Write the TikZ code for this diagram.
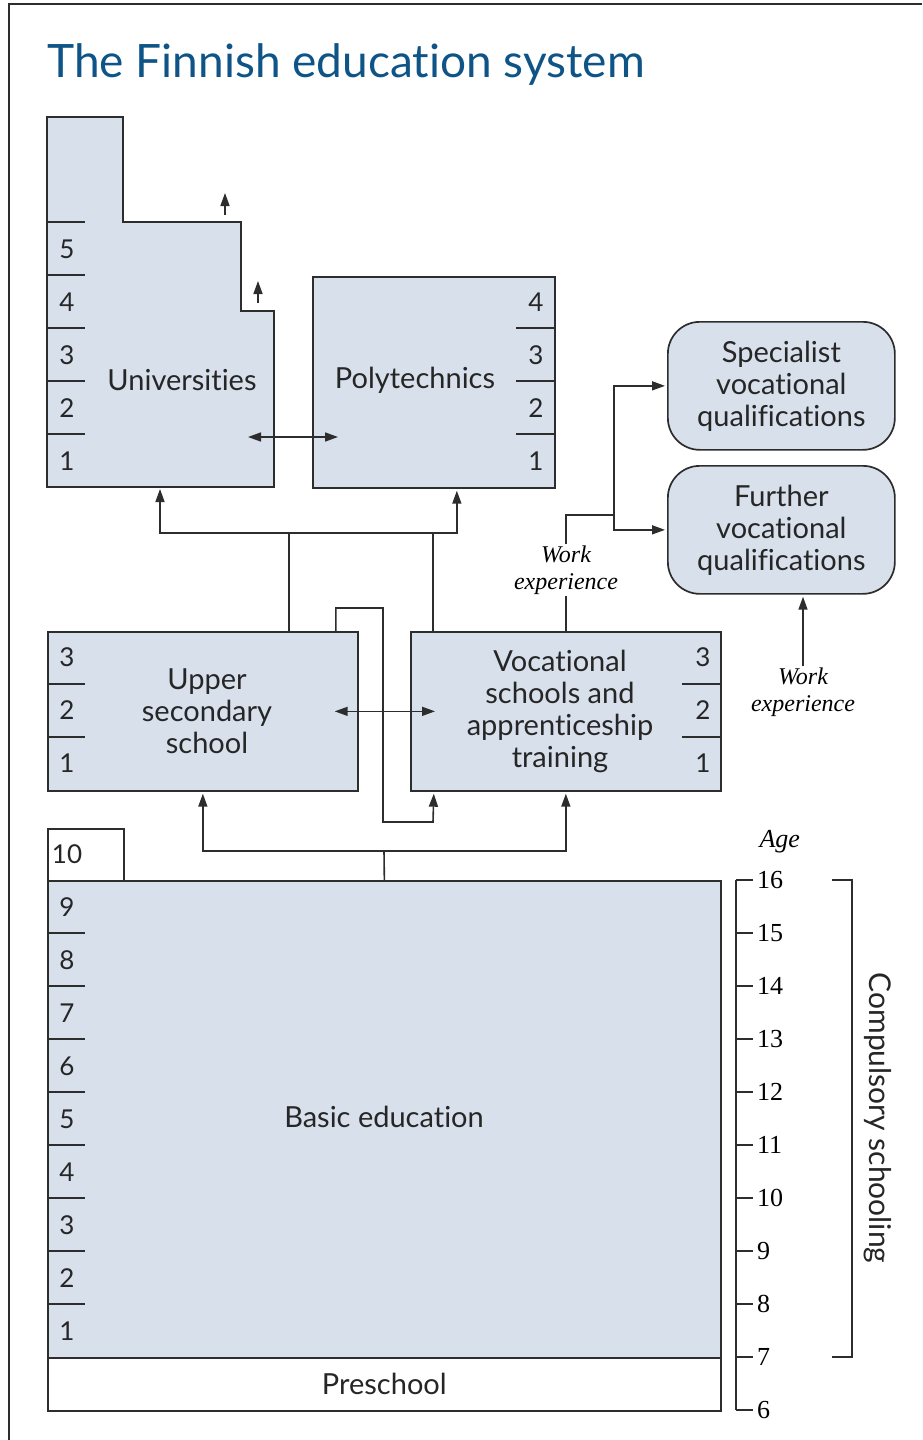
\documentclass[tikz,border=0pt]{standalone}
\usepackage{fontspec}
\setsansfont[Ligatures=NoCommon]{Lato}
\newfontfamily\agefont{Liberation Serif}
\usetikzlibrary{arrows.meta}
\definecolor{stagefill}{RGB}{216,224,236}
\definecolor{titleblue}{RGB}{14,84,135}
\definecolor{edgegray}{RGB}{45,45,45}
\tikzset{
	stageline/.style={draw=edgegray, line width=1.7pt},
	stage/.style={stageline, fill=stagefill, inner sep=0pt, anchor=north west},
	whitestage/.style={stage, fill=white},
	qual/.style={stage, rounded corners=32pt},
	boxtext/.style={font=\sffamily\fontsize{29}{32}\selectfont, align=center, text=black!85, inner sep=1pt},
	yeartext/.style={font=\sffamily\fontsize{26}{30}\selectfont, text=black!85},
	worktext/.style={font=\agefont\itshape\fontsize{24}{27}\selectfont, align=center, inner sep=1pt},
	agetext/.style={font=\agefont\fontsize{26}{30}\selectfont, anchor=west},
	yearline/.style={draw=edgegray, line width=1.4pt},
	link/.style={draw=edgegray, line width=1.6pt},
	into/.style={link, -{Triangle[length=13pt,width=9pt]}, shorten >=2pt},
	both/.style={link, {Triangle[length=13pt,width=9pt]}-{Triangle[length=13pt,width=9pt]}}
}
\begin{document}
\begin{tikzpicture}[x=1pt,y=-1pt]
	\useasboundingbox (0,0) rectangle (922,1440);
	\draw[link] (9,1440) -- (9,4) -- (922,4);
	\node[font=\sffamily\fontsize{46}{50}\selectfont, text=titleblue, anchor=base west, inner sep=0pt] (title) at (47,77) {The Finnish education system};

	% higher education
	\draw[stageline, fill=stagefill] (47,117) -| (123,222) -| (241,311) -| (274,487) -- (47,487) -- cycle;
	\node[boxtext] (uni) at (182,380) {Universities};
	\foreach \y in {222,275,...,434} \draw[yearline] (47,\y) -- ++(38,0);
	\foreach \n [count=\i] in {5,4,3,2,1} \node[yeartext] at (67,196+53*\i) {\n};
	\draw[into] (225,215) -- (225,191);
	\draw[into] (258,303) -- (258,279);
	\coordinate (uni base) at (160,487);
	\coordinate (uni end) at (248,437);

	\node[stage, minimum width=242pt, minimum height=211pt] (poly) at (312,276) {};
	\node[boxtext] (poly text) at (415,380) {Polytechnics};
	\foreach \y in {328,381,434} \draw[yearline] (554,\y) -- ++(-38,0);
	\foreach \n [count=\i] in {4,3,2,1} \node[yeartext] at (536,249+53*\i) {\n};
	\coordinate (poly end) at (338,437);
	\draw[both] (uni end) -- (poly end);

	% qualifications
	\node[qual, minimum width=227pt, minimum height=128pt] (spec) at (667,321) {};
	\node[boxtext] at (spec.center) {Specialist\\vocational\\qualifications};
	\node[qual, minimum width=227pt, minimum height=128pt] (furth) at (667,465) {};
	\node[boxtext] at (furth.center) {Further\\vocational\\qualifications};

	% upper secondary level
	\node[stage, minimum width=310pt, minimum height=159pt] (upper) at (47,631) {};
	\node[boxtext] (upper text) at (207,711) {Upper\\secondary\\school};
	\foreach \y in {684,737} \draw[yearline] (47,\y) -- ++(38,0);
	\foreach \n [count=\i] in {3,2,1} \node[yeartext] at (67,604+53*\i) {\n};

	\node[stage, minimum width=310pt, minimum height=159pt] (voc) at (410,631) {};
	\node[boxtext] (voc text) at (560,711) {Vocational\\schools and\\apprenticeship\\training};
	\foreach \y in {684,737} \draw[yearline] (720,\y) -- ++(-38,0);
	\foreach \n [count=\i] in {3,2,1} \node[yeartext] at (703,604+53*\i) {\n};

	\draw[both] ([xshift=-24pt]upper.east) -- ([xshift=25pt]voc.west);
	\draw[into] ([xshift=133pt]upper.north) |- (383,608) |- (433,822) -- ([xshift=-132pt]voc.south);

	\coordinate (gen up) at (289,533);
	\coordinate (voc up) at (433,533);
	\draw[link] (gen up |- upper.north) -- (gen up) -- (voc up) -- (voc up |- voc.north);
	\draw[into] (gen up) -| (uni base);
	\draw[into] (voc up) -| ([xshift=23pt]poly.south);

	% work experience
	\node[worktext] (work mid) at (566,570) {Work\\experience};
	\coordinate (qual split) at (614,515);
	\draw[link] (work mid.south) -- (work mid.south |- voc.north);
	\draw[link] (work mid.north) |- (qual split);
	\draw[into] (qual split) |- (spec.west);
	\draw[into] (qual split) |- (furth.west);
	\node[worktext] (work side) at (803,692) {Work\\experience};
	\draw[into] (work side.north) -- (work side.north |- furth.south);

	% basic education
	\node[whitestage, minimum width=76pt, minimum height=52pt] (tenth) at (47,828) {};
	\node[yeartext] at (67,854) {10};
	\node[stage, minimum width=673pt, minimum height=477pt] (basic) at (47,880) {};
	\node[boxtext] (basic text) at (384,1117) {Basic education};
	\foreach \y in {933,986,...,1304} \draw[yearline] (47,\y) -- ++(38,0);
	\foreach \n [count=\i] in {9,8,...,1} \node[yeartext] at (67,854+53*\i) {\n};
	\node[whitestage, minimum width=673pt, minimum height=53pt] (pre) at (47,1357) {};
	\node[boxtext] at (pre.center) {Preschool};

	\coordinate (basic fork) at (384,851);
	\draw[link] (basic.north) -- (basic fork);
	\draw[into] (basic fork) -| (upper.south);
	\draw[into] (basic fork) -| (voc.south);

	% ages
	\node[agetext, font=\agefont\itshape\fontsize{26}{30}\selectfont] (age) at (756,842) {Age};
	\draw[link] (736,880) -- (736,1410);
	\foreach \a [count=\i from 0] in {16,15,...,6}
		\draw[link] (736,880+53*\i) -- ++(17,0) node[agetext] {\a};
	\draw[link] (832,880) -| (852,1357) -- (832,1357);
	\node[boxtext, font=\sffamily\fontsize{30}{32}\selectfont, rotate=-90] (compulsory) at (878,1118) {Compulsory schooling};
\end{tikzpicture}
\end{document}
